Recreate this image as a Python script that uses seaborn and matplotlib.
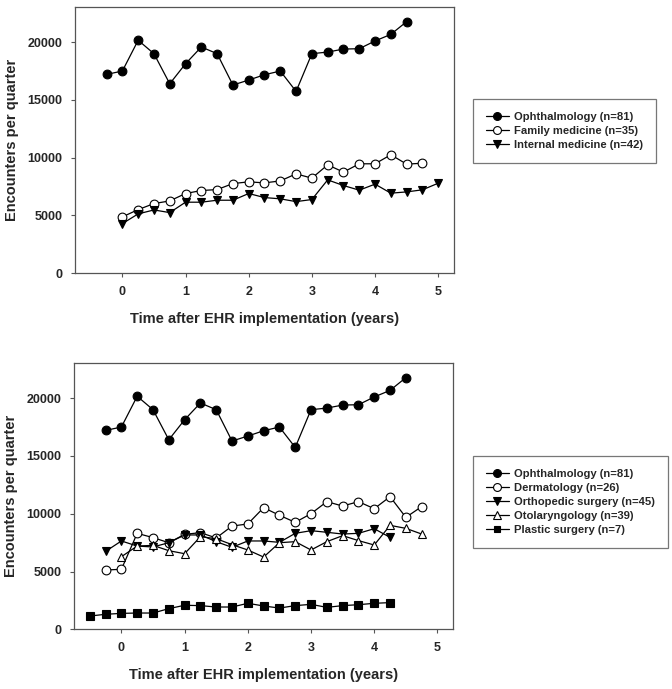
"""
Encounters per quarter after EHR implementation
- top: ophthalmology vs primary care
- bottom: ophthalmology vs surgical / specialty clinics
"""

import numpy as np
import pandas as pd
import seaborn as sns
import matplotlib.pyplot as plt

# quarters (years after EHR go-live)
anos_oft = [-0.25, 0, 0.25, 0.5, 0.75, 1, 1.25, 1.5, 1.75, 2, 2.25, 2.5, 2.75,
            3, 3.25, 3.5, 3.75, 4, 4.25, 4.5]
oftalmo = [17200, 17490, 20150, 18990, 16390, 18120, 19570, 18990, 16280, 16710,
           17170, 17490, 15730, 18990, 19130, 19390, 19420, 20090, 20660, 21760]

anos_fam = [0, 0.25, 0.5, 0.75, 1, 1.25, 1.5, 1.75, 2, 2.25, 2.5, 2.75,
            3, 3.25, 3.5, 3.75, 4, 4.25, 4.5, 4.75]
familia = [4880, 5510, 6030, 6260, 6900, 7160, 7240, 7760, 7910, 7820, 7990, 8600,
           8230, 9380, 8750, 9470, 9470, 10250, 9440, 9520]

anos_int = [0, 0.25, 0.5, 0.75, 1, 1.25, 1.5, 1.75, 2, 2.25, 2.5, 2.75,
            3, 3.25, 3.5, 3.75, 4, 4.25, 4.5, 4.75, 5]
interna = [4300, 5140, 5480, 5250, 6150, 6150, 6320, 6320, 6900, 6550, 6440, 6200,
           6380, 8080, 7590, 7190, 7710, 6930, 7040, 7220, 7790]

anos_derm = [-0.25, 0, 0.25, 0.5, 0.75, 1, 1.25, 1.5, 1.75, 2, 2.25, 2.5, 2.75,
             3, 3.25, 3.5, 3.75, 4, 4.25, 4.5, 4.75]
dermato = [5130, 5190, 8300, 7930, 7490, 8210, 8360, 7900, 8930, 9110, 10520, 9860,
           9250, 10000, 11040, 10660, 11040, 10430, 11470, 9680, 10610]

anos_orto = [-0.25, 0, 0.25, 0.5, 0.75, 1, 1.25, 1.5, 1.75, 2, 2.25, 2.5, 2.75,
             3, 3.25, 3.5, 3.75, 4, 4.25]
orto = [6740, 7640, 7200, 7120, 7490, 8160, 8160, 7580, 7090, 7640, 7640, 7520,
        8300, 8530, 8390, 8240, 8300, 8700, 7950]

anos_otor = [0, 0.25, 0.5, 0.75, 1, 1.25, 1.5, 1.75, 2, 2.25, 2.5, 2.75,
             3, 3.25, 3.5, 3.75, 4, 4.25, 4.5, 4.75]
otorrino = [6280, 7200, 7260, 6800, 6540, 8010, 7840, 7320, 6860, 6250, 7490, 7580,
            6860, 7580, 8100, 7670, 7290, 8990, 8730, 8240]

anos_plast = [-0.5, -0.25, 0, 0.25, 0.5, 0.75, 1, 1.25, 1.5, 1.75, 2, 2.25, 2.5,
              2.75, 3, 3.25, 3.5, 3.75, 4, 4.25]
plastica = [1150, 1300, 1380, 1410, 1410, 1790, 2080, 2050, 1930, 1930, 2250, 2020,
            1840, 2050, 2160, 1900, 2050, 2130, 2250, 2310]

yticks = [0, 5000, 10000, 15000, 20000]
xticks = [0, 1, 2, 3, 4, 5]

sns.set_style('ticks')
plt.rcParams['font.family'] = ['Liberation Sans', 'DejaVu Sans']

fig = plt.figure(figsize=(6.72, 6.89), dpi=100)
ax1 = fig.add_axes([0.1116, 0.6033, 0.5640, 0.3861])
ax2 = fig.add_axes([0.1101, 0.0866, 0.5644, 0.3861])

# marker styles: (marker, face)
estilo = {
    'o_cheio': ('o', 'black'),
    'o_vazio': ('o', 'white'),
    'v_cheio': ('v', 'black'),
    '^_vazio': ('^', 'white'),
    's_cheio': ('s', 'black'),
}


def serie(ax, x, y, chave, rotulo):
    m, face = estilo[chave]
    sns.lineplot(x=x, y=y, ax=ax, color='black', linewidth=0.9,
                 marker=m, markersize=6.3 if m != 's' else 5.5,
                 markerfacecolor=face, markeredgecolor='black',
                 markeredgewidth=0.8, label=rotulo)


serie(ax1, anos_oft, oftalmo, 'o_cheio', 'Ophthalmology (n=81)')
serie(ax1, anos_fam, familia, 'o_vazio', 'Family medicine (n=35)')
serie(ax1, anos_int, interna, 'v_cheio', 'Internal medicine (n=42)')

serie(ax2, anos_oft, oftalmo, 'o_cheio', 'Ophthalmology (n=81)')
serie(ax2, anos_derm, dermato, 'o_vazio', 'Dermatology (n=26)')
serie(ax2, anos_orto, orto, 'v_cheio', 'Orthopedic surgery (n=45)')
serie(ax2, anos_otor, otorrino, '^_vazio', 'Otolaryngology (n=39)')
serie(ax2, anos_plast, plastica, 's_cheio', 'Plastic surgery (n=7)')

for ax, topo in [(ax1, 0.856), (ax2, 0.338)]:
    ax.set_xlim(-0.75, 5.25)
    ax.set_ylim(0, 23000)
    ax.set_xticks(xticks)
    ax.set_yticks(yticks)
    ax.set_xticklabels(xticks, fontsize=9, fontweight='bold')
    ax.set_yticklabels(yticks, fontsize=9, fontweight='bold')
    ax.tick_params(length=3, width=0.8, color='#555555', pad=6)
    for s in ax.spines.values():
        s.set_visible(True)
        s.set_color('#555555')
        s.set_linewidth(0.9)
    ax.set_xlabel('Time after EHR implementation (years)', fontsize=10.5,
                  fontweight='bold', labelpad=10)
    ax.set_ylabel('Encounters per quarter', fontsize=10.5, fontweight='bold',
                  labelpad=6)
    leg = ax.legend(loc='upper left', bbox_to_anchor=(0.704, topo),
                    bbox_transform=fig.transFigure, frameon=True, fancybox=False,
                    prop={'size': 8.1, 'weight': 'bold'}, handlelength=2.0,
                    handletextpad=0.5, labelspacing=0.36, borderpad=1.15,
                    borderaxespad=0, markerscale=0.9)
    leg.get_frame().set_edgecolor('#555555')
    leg.get_frame().set_linewidth(0.9)

fig.savefig('out.png', dpi=100)
